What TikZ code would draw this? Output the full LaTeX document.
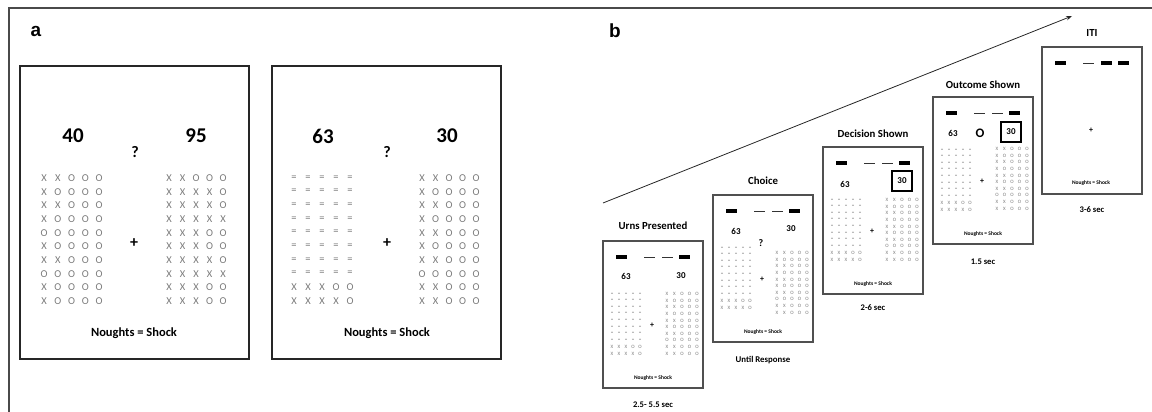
\documentclass[tikz,border=0pt]{standalone}
\usepackage{fontspec}
\setmainfont{Carlito}
\newfontfamily\arialf{Liberation Sans}
\usetikzlibrary{arrows.meta}
\definecolor{gridgray}{HTML}{7A7A7A}
\definecolor{framedark}{HTML}{262626}
\definecolor{cardgray}{HTML}{505050}
\definecolor{outergray}{HTML}{4A4A4A}

\newcommand\fs[1]{\fontsize{#1}{#1}\selectfont}

\tikzset{
  gridch/.style={text=gridgray, inner sep=0pt, anchor=center},
  bigbox/.style={draw=framedark, line width=2pt, minimum width=229pt, minimum height=293pt, inner sep=0pt, outer sep=0pt},
  cardbox/.style={draw=cardgray, line width=1.1pt, minimum width=100pt, minimum height=147pt, inner sep=0pt, outer sep=0pt},
  bt/.style={font=\bfseries\fs{#1}, inner sep=0pt, anchor=center},
  panellabel/.style={font=\arialf\bfseries\fs{19}, inner sep=0pt},
  chosen/.style={draw=black, line width=1.6pt, minimum width=20pt, minimum height=20pt, inner sep=0pt, font=\bfseries\fs{9}},
}

\def\LA{{X,X,O,O,O},{X,O,O,O,O},{X,X,O,O,O},{X,O,O,O,O},{O,O,O,O,O},{X,O,O,O,O},{X,X,O,O,O},{O,O,O,O,O},{X,O,O,O,O},{X,O,O,O,O}}
\def\RA{{X,X,O,O,O},{X,X,X,X,O},{X,X,X,X,O},{X,X,X,X,X},{X,X,X,O,O},{X,X,X,O,O},{X,X,X,X,O},{X,X,X,X,X},{X,X,X,O,O},{X,X,X,O,O}}
\def\LB{{=,=,=,=,=},{=,=,=,=,=},{=,=,=,=,=},{=,=,=,=,=},{=,=,=,=,=},{=,=,=,=,=},{=,=,=,=,=},{=,=,=,=,=},{X,X,X,O,O},{X,X,X,X,O}}
\def\RB{{X,X,O,O,O},{X,O,O,O,O},{X,X,O,O,O},{X,O,O,O,O},{X,X,O,O,O},{X,O,O,O,O},{X,X,O,O,O},{O,O,O,O,O},{X,X,O,O,O},{X,X,O,O,O}}

% prefix, x0, y0, dx, dy, fontsize, list
\newcommand\drawgrid[7]{%
  \foreach \row [count=\i from 0] in #7 {
    \foreach \c [count=\j from 0] in \row {
      \node[gridch,font=\fs{#6}] (#1-\i-\j) at ({#2+\j*#4},{#3+\i*#5}) {\c};
    }
  }}

\newcommand\thickbar[2]{\fill[black] (#1,#2-2) rectangle ++(11,4);}
\newcommand\thinbar[2]{\draw[black!80, line width=0.8pt] (#1,#2) -- ++(11,0);}

% name, X, Y (top-left), right grid y offset
\newcommand\cardbase[4]{%
  \node[cardbox] (#1) at (#2+50,#3+73.5) {};
  \drawgrid{#1L}{#2+9}{#3+53}{7}{6.6}{5}{\LB}
  \drawgrid{#1R}{#2+64}{#3+#4}{7.5}{6.6}{5}{\RB}
  \node[bt=8] (#1plus) at (#2+49,#3+84) {+};
  \node[bt=5.5] (#1nought) at (#2+50,#3+137) {Noughts = Shock};
}
\newcommand\stdbars[2]{%
  \thickbar{#1+13}{#2+16}
  \thinbar{#1+41}{#2+16}
  \thinbar{#1+59}{#2+16}
  \thickbar{#1+76}{#2+16}
}

\begin{document}
\begin{tikzpicture}[x=1pt,y=-1pt]
\useasboundingbox (0,0) rectangle (1152,412);
% outer frame
\draw[outergray, line width=1.6pt] (9,412) -- (9,8) -- (1152,8);

% ---------- panel a ----------
\node[panellabel] (labA) at (36,31) {a};

\node[bigbox] (boxA) at (134.5,212.5) {};
\node[bt=21] (a40) at (73,136) {40};
\node[bt=16] (aq) at (135,152) {?};
\node[bt=21] (a95) at (196,136) {95};
\drawgrid{aL}{44}{178}{13.75}{13.67}{10.5}{\LA}
\drawgrid{aR}{169}{178}{13.5}{13.67}{10.5}{\RA}
\node[bt=16] (aplus) at (134,243) {+};
\node[bt=12.5] (anought) at (134,333) {Noughts = Shock};

\node[bigbox] (boxB) at (386.5,212.5) {};
\node[bt=21] (b63) at (323,136) {63};
\node[bt=16] (bq) at (387,152) {?};
\node[bt=21] (b30) at (447,136) {30};
\drawgrid{bL}{294}{178}{14}{13.67}{10.5}{\LB}
\drawgrid{bR}{422}{178}{13.5}{13.67}{10.5}{\RB}
\node[bt=16] (bplus) at (387,243) {+};
\node[bt=12.5] (bnought) at (387,333) {Noughts = Shock};

% ---------- panel b ----------
\node[panellabel] (labB) at (615,31) {b};
\coordinate (arrS) at (603,203);
\coordinate (arrE) at (1072,16);
\draw[-{Stealth[length=6pt,width=4.5pt]}, line width=0.8pt, black!85] (arrS) -- (arrE);

% card 1
\node[bt=10.8] (t1) at (653,226) {Urns Presented};
\cardbase{c1}{603}{241}{53}
\stdbars{603}{241}
\node[bt=9] (c1a) at (626,276) {63};
\node[bt=9] (c1b) at (681,276) {30};
\node[bt=8.6] (d1) at (653,405) {2.5- 5.5 sec};

% card 2
\node[bt=10.8] (t2) at (763,181) {Choice};
\cardbase{c2}{713}{195}{58}
\stdbars{713}{195}
\node[bt=9] (c2a) at (736,231) {63};
\node[bt=9] (c2b) at (791,229) {30};
\node[bt=10] (c2q) at (761,243) {?};
\node[bt=8.8] (d2) at (763,360) {Until Response};

% card 3
\node[bt=10.8] (t3) at (873,134) {Decision Shown};
\cardbase{c3}{823}{147}{53}
\stdbars{823}{147}
\node[bt=9] (c3a) at (845,184) {63};
\node[chosen] (c3b) at (902,181) {30};
\node[bt=8.6] (d3) at (873,308) {2-6 sec};

% card 4
\node[bt=10.8] (t4) at (983,85) {Outcome Shown};
\cardbase{c4}{933}{97}{52}
\stdbars{933}{97}
\node[bt=9] (c4a) at (953,133) {63};
\node[bt=13] (c4o) at (980,133) {O};
\node[chosen] (c4b) at (1011,132) {30};
\node[bt=8.6] (d4) at (983,262) {1.5 sec};

% card 5
\node[bt=10.8] (t5) at (1092,33) {ITI};
\node[cardbox] (c5) at (1092,120.5) {};
\thickbar{1055}{63}
\thinbar{1083}{63}
\thickbar{1101}{63}
\thickbar{1118}{63}
\node[bt=8] (c5plus) at (1091,130) {+};
\node[bt=5.5] (c5nought) at (1091,183) {Noughts = Shock};
\node[bt=8.6] (d5) at (1092,210) {3-6 sec};
\end{tikzpicture}
\end{document}
